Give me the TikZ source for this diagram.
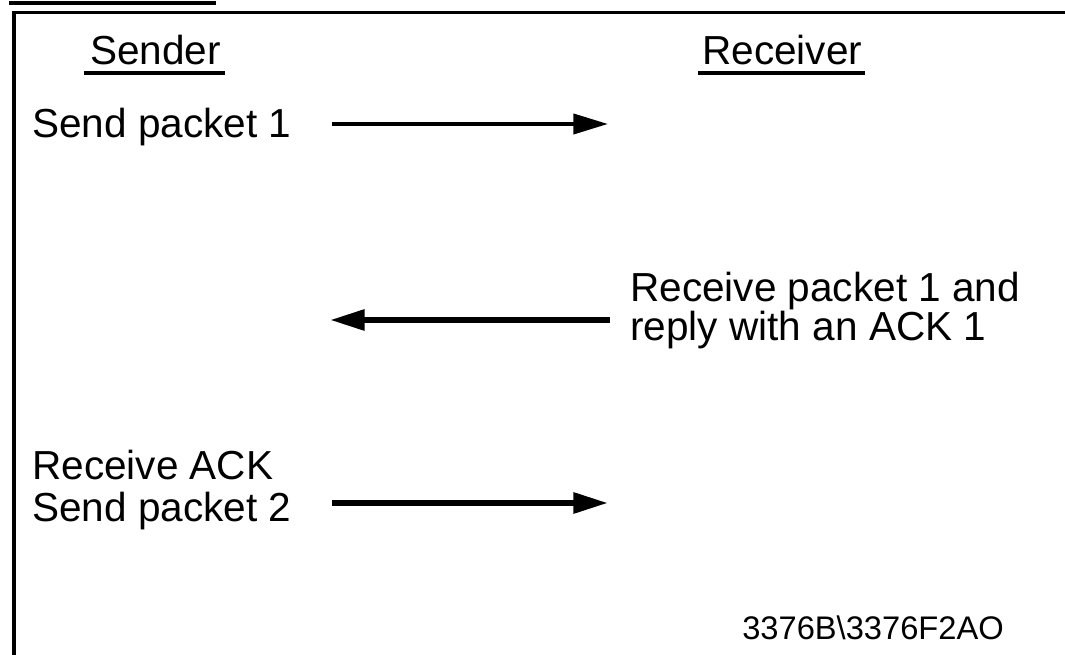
\documentclass[tikz,border=0pt]{standalone}
\usepackage{fontspec}
\setmainfont{Liberation Sans}
\usepackage{tikz}
\usetikzlibrary{arrows.meta}

\begin{document}
\begin{tikzpicture}[
  x=0.75pt, y=-0.75pt,
  every node/.style={inner sep=0pt, font=\fontsize{30.4}{31.5}\selectfont},
  txt/.style={anchor=base west, align=left},
  ul/.style={line width=3pt},
  flow/.style={-{Triangle[length=26pt,width=15pt]}, line width=4.5pt},
  frame/.style={line width=2.5pt, line join=miter}
]
\useasboundingbox (0,0) rectangle (1065,655);
% frame
\draw[line width=3pt] (9,3.5) -- (216,3.5);
\draw[frame] (14,655) -- (14,12.5) -- (1065,12.5);
% column heads
\node[txt] (sender)   at (90,65)  {Sender};
\node[txt] (receiver) at (702,65) {Receiver};
\draw[ul] ([shift={(-6,8)}]sender.base west) -- ([shift={(4,8)}]sender.base east);
\draw[ul] ([shift={(-4,8)}]receiver.base west) -- ([shift={(3,8)}]receiver.base east);
% steps
\node[txt] (send1) at (32,138) {Send packet 1};
\node[txt, font=\fontsize{30.4}{28}\selectfont] (recv1) at (630,341)
  {Receive packet 1 and\\reply with an ACK 1};
\node[txt] (send2) at (32,522) {Receive ACK\\Send packet 2};
\node[txt, font=\fontsize{24.5}{26}\selectfont] (figid) at (742,640) {3376B\textbackslash 3376F2AO};
% arrow ends
\coordinate (s1) at (332,124);
\coordinate (r1) at (608,124);
\coordinate (r2) at (610,320);
\coordinate (s2) at (330,320);
\coordinate (s3) at (332,503);
\coordinate (r3) at (608,503);
\draw[flow, line width=3pt] (s1) -- (r1);
\draw[flow] (r2) -- (s2);
\draw[flow] (s3) -- (r3);
\end{tikzpicture}
\end{document}
